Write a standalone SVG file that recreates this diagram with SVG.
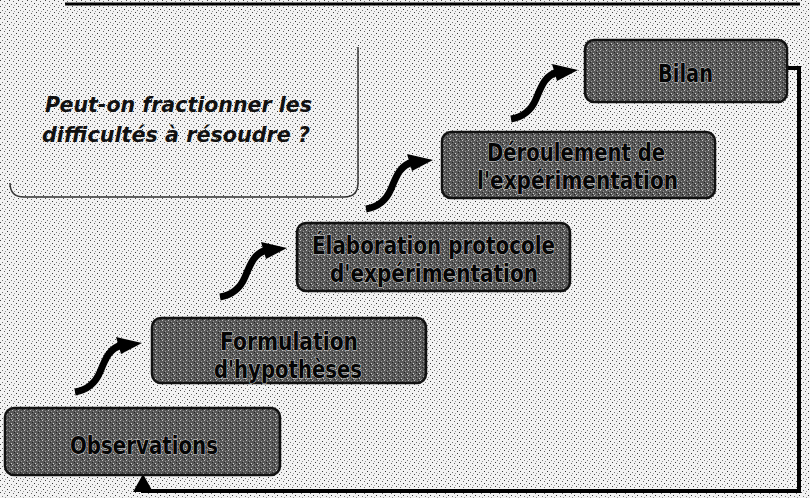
<svg xmlns="http://www.w3.org/2000/svg" width="810" height="498" viewBox="0 0 810 498">
  <defs>
    <pattern id="bgnoise" width="9" height="6" patternUnits="userSpaceOnUse">
      <rect width="9" height="6" fill="#f2f2f2"/>
      <rect x="0" y="0" width="1" height="1" fill="#444"/>
      <rect x="4" y="1" width="1" height="1" fill="#666"/>
      <rect x="7" y="3" width="1" height="1" fill="#333"/>
      <rect x="2" y="4" width="1" height="1" fill="#777"/>
      <rect x="5" y="5" width="1" height="1" fill="#999"/>
    </pattern>
    <pattern id="boxnoise" width="6" height="5" patternUnits="userSpaceOnUse">
      <rect width="6" height="5" fill="#585858"/>
      <rect x="0" y="0" width="1" height="1" fill="#c4c4c4"/>
      <rect x="3" y="1" width="1" height="1" fill="#9a9a9a"/>
      <rect x="5" y="3" width="1" height="1" fill="#d0d0d0"/>
      <rect x="1" y="4" width="1" height="1" fill="#8a8a8a"/>
      <rect x="2" y="2" width="1" height="1" fill="#262626"/>
      <rect x="4" y="4" width="1" height="1" fill="#1e1e1e"/>
    </pattern>
    <g id="sarrow">
      <path d="M0,50 C12,48 20,42 25,30 C31,15 35,6 47,3" fill="none" stroke="#000" stroke-width="7"/>
      <path d="M41,-5 L67,1 L46,12 Z" fill="#000"/>
    </g>
  </defs>
  <style>
    .node rect.box { fill: url(#boxnoise); stroke: #111; stroke-width: 2.5; }
    .lbl { font-family: "DejaVu Sans", "Liberation Sans", sans-serif; font-weight: bold; font-size: 24px; fill: #050505; stroke: #cfcfcf; stroke-width: 1; paint-order: stroke; }
    .q { font-family: "DejaVu Sans", "Liberation Sans", sans-serif; font-weight: bold; font-style: italic; font-size: 22px; fill: #111; }
    .loop { fill: none; stroke: #000; stroke-width: 4; }
  </style>

  <rect width="810" height="498" fill="url(#bgnoise)"/>
  <line x1="65" y1="4" x2="800" y2="4" stroke="#000" stroke-width="3"/>

  <g id="question">
    <path d="M358,47 V183 Q358,197 344,197 H24 Q10,197 10,183" fill="none" stroke="#333" stroke-width="1.5"/>
    <text class="q" x="45" y="112" textLength="267" lengthAdjust="spacingAndGlyphs">Peut-on fractionner les</text>
    <text class="q" x="42" y="142" textLength="268" lengthAdjust="spacingAndGlyphs">difficultés à résoudre ?</text>
  </g>

  <g id="connectors">
    <use href="#sarrow" transform="translate(75,342)"/>
    <use href="#sarrow" transform="translate(220,247)"/>
    <use href="#sarrow" transform="translate(366,159)"/>
    <use href="#sarrow" transform="translate(511,69)"/>
    <path class="loop" d="M786,68 H799 V491 H143 V488"/>
    <path d="M143,474 L133,492 L153,492 Z" fill="#000"/>
  </g>

  <g id="observations" class="node">
    <rect class="box" x="5" y="408" width="275" height="67" rx="9"/>
    <text class="lbl" x="70" y="454" textLength="148" lengthAdjust="spacingAndGlyphs">Observations</text>
  </g>

  <g id="formulation" class="node">
    <rect class="box" x="152" y="318" width="274" height="65" rx="9"/>
    <text class="lbl" x="220" y="350" textLength="138" lengthAdjust="spacingAndGlyphs">Formulation</text>
    <text class="lbl" x="214" y="378" textLength="148" lengthAdjust="spacingAndGlyphs">d'hypothèses</text>
  </g>

  <g id="elaboration" class="node">
    <rect class="box" x="297" y="223" width="273" height="68" rx="9"/>
    <text class="lbl" x="312" y="254" textLength="243" lengthAdjust="spacingAndGlyphs">Élaboration protocole</text>
    <text class="lbl" x="330" y="282" textLength="208" lengthAdjust="spacingAndGlyphs">d'expérimentation</text>
  </g>

  <g id="deroulement" class="node">
    <rect class="box" x="442" y="132" width="273" height="66" rx="9"/>
    <text class="lbl" x="487" y="161" textLength="178" lengthAdjust="spacingAndGlyphs">Déroulement de</text>
    <text class="lbl" x="477" y="189" textLength="201" lengthAdjust="spacingAndGlyphs">l'expérimentation</text>
  </g>

  <g id="bilan" class="node">
    <rect class="box" x="585" y="40" width="202" height="62" rx="9"/>
    <text class="lbl" x="658" y="82" textLength="55" lengthAdjust="spacingAndGlyphs">Bilan</text>
  </g>
</svg>
